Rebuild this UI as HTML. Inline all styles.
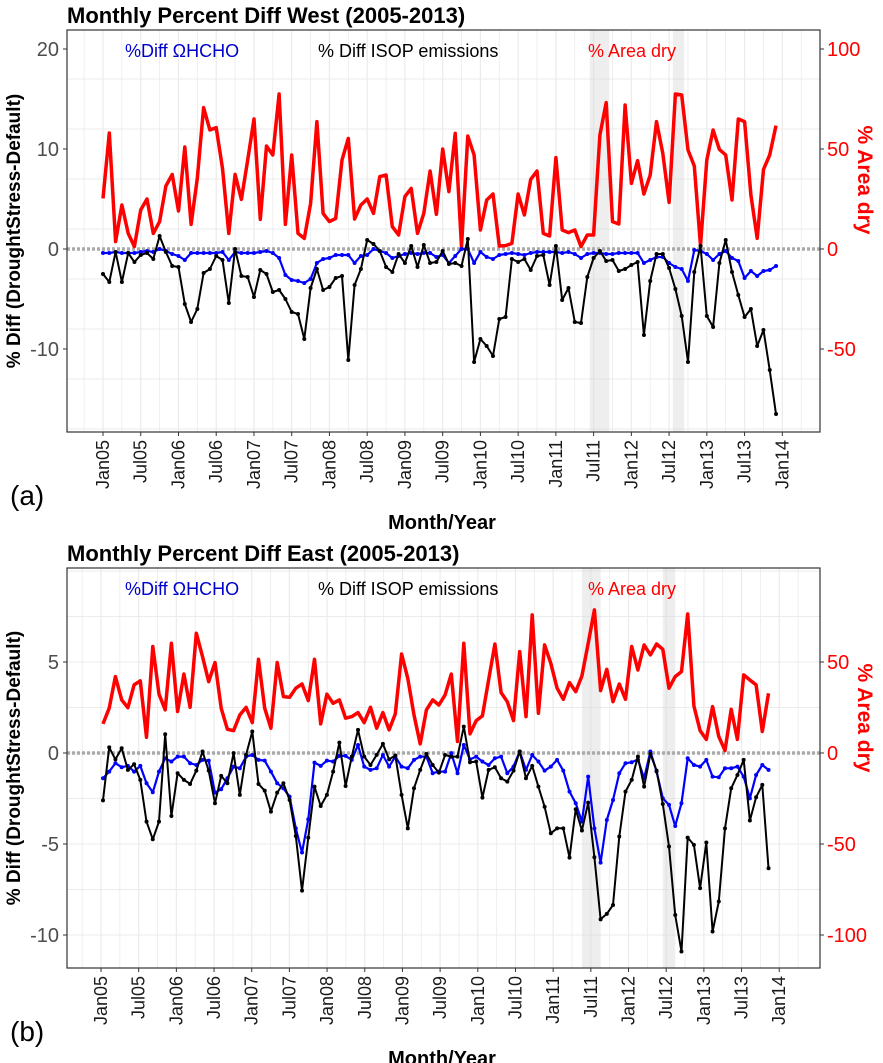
<!DOCTYPE html>
<html><head><meta charset="utf-8"><style>
body{margin:0;background:#fff;}
svg{display:block;font-family:"Liberation Sans",Arial,sans-serif;}
</style></head><body>
<svg id="chart" width="883" height="1063" xmlns="http://www.w3.org/2000/svg"></svg>
<script>
const months = ["Jan05","Jul05","Jan06","Jul06","Jan07","Jul07","Jan08","Jul08","Jan09","Jul09","Jan10","Jul10","Jan11","Jul11","Jan12","Jul12","Jan13","Jul13","Jan14"];
const westTicksL = [20,10,0,-10];
const westTicksR = [100,50,0,-50];
const eastTicksL = [5,0,-5,-10];
const eastTicksR = [50,0,-50,-100];
const westIsop = [-2.5,-3.3,-0.3,-3.3,-0.4,-1.3,-0.6,-0.4,-1.0,1.3,-0.3,-1.7,-1.8,-5.5,-7.3,-6.0,-2.4,-2.0,-0.7,-1.1,-5.4,0,-2.7,-2.8,-4.8,-2.1,-2.5,-4.3,-4.1,-5.0,-6.3,-6.5,-9.0,-3.9,-2.0,-4.1,-3.8,-2.9,-2.7,-11.1,-3.6,-2.0,0.9,0.5,-0.2,-1.8,-2.3,-0.5,-1.4,0.3,-1.8,0.4,-1.4,-1.3,-0.2,
-1.5,-1.4,-1.7,1.0,-11.3,-9.0,-9.7,-10.7,-7.0,-6.8,-1.0,-1.3,-1.0,-2.1,-0.7,-0.6,-3.6,0.3,-5.1,-3.9,-7.3,-7.4,-2.8,-0.9,-0.2,-1.2,-1.1,-2.2,-2.0,-1.6,-1.3,-8.6,-3.2,-0.5,-0.5,-1.9,-4.0,-6.7,-11.3,-2.3,0.3,-6.7,-7.8,-1.4,0.9,-2.3,-4.6,-6.8,-6.0,-9.7,-8.1,-12.1,-16.5];
const westHcho = [-0.4,-0.4,-0.3,-0.4,-0.4,-0.4,-0.3,-0.2,-0.3,0,-0.2,-0.5,-0.7,-1.1,-0.4,-0.4,-0.4,-0.4,-0.4,-0.3,-1.1,-0.3,-0.4,-0.4,-0.4,-0.3,-0.2,-0.4,-0.9,-2.6,-3.1,-3.2,-3.4,-3.0,-1.4,-1.0,-0.9,-0.6,-0.6,-0.6,-1.4,-0.7,-0.6,0,-0.2,-0.4,-0.9,-0.7,-0.5,-0.4,-0.5,-0.4,-0.4,-0.8,-0.6,
-1.4,-0.7,0,0,-1.4,-0.3,-0.8,-1.0,-0.6,-0.5,-0.4,-0.5,-0.6,-0.4,-0.3,-0.3,-0.3,-0.3,-0.4,-0.3,-0.5,-0.9,-0.5,-0.4,-0.4,-0.5,-0.5,-0.4,-0.4,-0.4,-0.4,-1.4,-1.1,-0.8,-0.8,-1.4,-1.8,-2.0,-3.2,-0.1,-0.2,-0.5,-1.1,-0.5,-0.2,-0.9,-1.2,-2.9,-2.2,-2.7,-2.2,-2.1,-1.7];
const westDry = [25.3,58,3.7,22,7.8,1.2,19.5,25,7.8,13.7,31.5,37.3,19,51,12.3,35.3,70.7,59.5,60.7,40.3,7.8,37.3,24.8,44.5,65,14.8,51.5,47,77.5,12.3,47,7.8,5.3,22.8,63.7,17.8,13.7,15.3,44.5,55.3,15,22,25,17.8,36.2,37,11.2,7,26.2,30.3,7.8,17.8,39,17.3,50,
28.7,57.8,1.2,56.5,47,9.5,24.5,27.5,1.5,1.7,2.8,27.5,17,34.8,39,7.8,6.5,45.7,9.5,8.2,9.5,1.2,7,7,57,73.2,13.7,12.5,72,32.8,44.2,27.5,37,63.7,47.8,23.3,77.5,77,49.5,41.5,1.7,44.5,59.5,49.8,47,24.5,65,63.7,27,5.3,39.8,47,61.7];
const eastIsop = [-2.6,0.31,-0.35,0.26,-0.93,-0.62,-1.48,-3.77,-4.74,-3.77,1.03,-3.46,-1.11,-1.48,-1.7,-0.97,0.08,-0.97,-2.76,-1.26,-1.66,-0.01,-2.3,-0.1,1.18,-1.7,-2.07,-3.22,-2.18,-1.66,-2.58,-4.56,-7.56,-4.65,-1.85,-2.91,-2.3,-1.02,0.57,-1.81,-0.2,1.27,-0.2,-0.66,-0.1,0.5,-0.35,-0.14,-2.3,-4.14,-1.94,-0.93,-0.05,-0.66,-1.08,
-0.11,-0.2,-0.2,1.45,-0.51,-0.47,-2.45,-0.93,-0.78,-1.39,-1.57,-0.97,0.08,-1.39,-0.71,-1.85,-2.95,-4.41,-4.14,-4.14,-5.75,-3.09,-4.26,-2.73,-5.73,-9.14,-8.84,-8.35,-4.59,-2.12,-1.48,-0.2,-1.85,-0.05,-0.97,-2.8,-5.14,-8.9,-10.91,-4.65,-5.05,-7.43,-4.92,-9.81,-8.16,-4.14,-1.94,-1.21,-0.38,-3.71,-2.43,-1.75,-6.33];
const eastHcho = [-1.39,-1.02,-0.56,-0.78,-0.71,-1.02,-0.71,-1.66,-2.16,-1.02,-0.29,-0.47,-0.2,-0.2,-0.56,-0.66,-0.38,-0.42,-2.18,-1.99,-1.39,-0.75,-0.84,-0.2,-0.11,-0.38,-0.42,-1.02,-1.66,-1.94,-2.4,-4.14,-5.47,-3.64,-0.53,-0.71,-0.42,-0.47,-0.16,-0.16,-0.38,0.44,-0.75,-0.93,-0.84,-0.11,-0.75,-0.2,-0.75,-0.84,-0.38,-0.2,-0.2,-1.11,-1.02,
-1.02,-0.01,-1.11,0.44,-0.35,-0.2,-0.47,-0.66,-0.29,-0.2,-1.11,-0.75,0.08,-0.93,-0.11,-0.47,-0.97,-0.75,-0.38,-0.97,-2.12,-2.76,-3.77,-1.3,-4.14,-6.02,-3.68,-2.58,-1.11,-0.56,-0.51,-0.35,-1.39,0.08,-1.02,-2.49,-2.85,-4.01,-2.76,-0.29,-0.66,-0.75,-0.38,-1.3,-1.33,-0.84,-0.84,-0.75,-1.3,-2.49,-1.21,-0.66,-0.93];
const eastDry = [16,24.6,42,29.2,24.9,37.4,39.6,8.6,58.5,32.3,23.7,60.3,22.8,43.4,25.1,65.8,53,39.2,49.7,24.6,13,12.3,20.9,25.1,16.7,51.5,24.6,13.6,49.7,31,30.6,35.6,37.9,28.8,51.5,16,32.3,27.3,29.2,19.1,20,22.2,16.7,25.1,13.6,22.2,12.7,21.5,54.4,41,20.9,5,23.7,29.2,26.4,
31.9,43.4,6.3,60.3,10.5,17.8,20.4,40.1,59.9,33.2,28.2,17.8,55.7,20,75.9,21.8,59.4,49.3,35.6,29.5,38.7,33.7,42.3,60.3,78.6,34.3,46,28.2,37.9,29.5,58.5,45.6,59.4,53.9,59.9,57,35.6,42,44.7,76.4,25.9,12.3,7.5,25.5,9,1.3,24,7.5,42.9,40.1,37.4,11.8,32.8];

const svg = document.getElementById('chart');
const NS = 'http://www.w3.org/2000/svg';
function mk(tag, attrs, parent, text){
  const e = document.createElementNS(NS, tag);
  for (const k in attrs) e.setAttribute(k, attrs[k]);
  if (text !== undefined) e.textContent = text;
  (parent || svg).appendChild(e);
  return e;
}

function panel(cfg){
  const g = mk('g', {});
  
  
  const L = 67, R = 820, T = cfg.top, B = cfg.bottom;
  const xTick = m => cfg.tx0 + cfg.tstep * m;
  const xData = m => cfg.dx0 + cfg.dstep * m;
  const yL = v => cfg.zeroY - v * cfg.pxL;
  const yR = v => cfg.zeroY - v * cfg.pxR;
  // minor horizontal grid
  for (let v = cfg.minL; v <= cfg.maxL; v += cfg.stepL / 2) {
    const y = yL(v); if (y < T || y > B) continue;
    const gl = mk('line', {x1:L, x2:R, y1:y, y2:y, stroke:'#ebebeb', 'stroke-width': 1}, g);
    
    
  }
  // vertical grid every 3 months
  for (let m = -3; m <= 111; m += 3) {
    const x = xTick(m); if (x < L || x > R) continue;
    const gl = mk('line', {x1:x, x2:x, y1:T, y2:B, stroke:'#ebebeb', 'stroke-width': (m % 6 === 0) ? 1.2 : 0.8}, g);
    
    
  }
  // shaded drought periods
  cfg.shades.forEach(s => {
    const r = mk('rect', {x: xData(s[0]), y: T, width: xData(s[1]) - xData(s[0]), height: B - T, fill: '#d9d9d9', opacity: 0.45}, g);
    
    
  });
  // zero line
  const z = mk('line', {x1:L, x2:R, y1:yL(0), y2:yL(0), stroke:'#aaaaaa', 'stroke-width':3.5, 'stroke-dasharray':'3,2'}, g);
  
  
  // series
  function line(arr, sc, color, w, dots, nm){
    const pts = arr.map((v,i) => xData(i).toFixed(1) + ',' + sc(v).toFixed(1)).join(' ');
    const p = mk('polyline', {points: pts, fill:'none', stroke: color, 'stroke-width': w, 'stroke-linejoin':'round'}, g);
    
    
    if (dots) arr.forEach((v,i) => {
      const c = mk('circle', {cx: xData(i), cy: sc(v), r: 2, fill: color}, g);
      
      
    });
  }
  line(cfg.dry, yR, '#ff0000', 3.5, false, 'area-dry');
  line(cfg.hcho, yL, '#0000ff', 2.2, true, 'hcho-diff');
  line(cfg.isop, yL, '#000000', 2, true, 'isop-diff');
  // frame
  const fr = mk('rect', {x:L, y:T, width:R-L, height:B-T, fill:'none', stroke:'#333', 'stroke-width':1.2}, g);
  
  
  // left ticks
  cfg.ticksL.forEach(v => {
    const y = yL(v);
    mk('line', {x1:L-4, x2:L, y1:y, y2:y, stroke:'#333'}, g);
    const t = mk('text', {x: L-8, y: y+7, 'text-anchor':'end', 'font-size':20, fill:'#4d4d4d'}, g, String(v));
    
    
  });
  cfg.ticksR.forEach(v => {
    const y = yR(v);
    mk('line', {x1:R, x2:R+4, y1:y, y2:y, stroke:'#333'}, g);
    const t = mk('text', {x: R+7, y: y+7, 'font-size':20, fill:'#ff0000'}, g, String(v));
    
    
  });
  months.forEach((lab, i) => {
    const x = xTick(i * 6);
    mk('line', {x1:x, x2:x, y1:B, y2:B+4, stroke:'#333'}, g);
    const t = mk('text', {x: x+6, y: B+8, 'font-size':18, fill:'#1a1a1a', 'text-anchor':'end', transform:`rotate(-90 ${x+6} ${B+8})`}, g, lab);
    
    
  });
  const tt = mk('text', {x: 67, y: T-7, 'font-size':22, 'font-weight':'bold'}, g, cfg.title);
  
  
  const l1 = mk('text', {x:125, y:T+27, 'font-size':18, fill:'#0000cc'}, g, '%Diff \u03A9HCHO');
  
  
  const l2 = mk('text', {x:318, y:T+27, 'font-size':18, fill:'#000'}, g, '% Diff ISOP emissions');
  
  
  const l3 = mk('text', {x:588, y:T+27, 'font-size':18, fill:'#ff0000'}, g, '% Area dry');
  
  
  const yt = (T+B)/2;
  const ylt = mk('text', {x:20, y:yt, 'font-size':19, 'font-weight':'bold', 'text-anchor':'middle', transform:`rotate(-90 20 ${yt})`}, g, '% Diff (DroughtStress-Default)');
  
  
  const yrt = mk('text', {x:858, y:cfg.rTitleY, 'font-size':21, 'font-weight':'bold', fill:'#ff0000', 'text-anchor':'middle', transform:`rotate(90 858 ${cfg.rTitleY})`}, g, '% Area dry');
  
  
  const xt = mk('text', {x:442, y:B+97, 'font-size':20, 'font-weight':'bold', 'text-anchor':'middle'}, g, 'Month/Year');
  
  
  const pl = mk('text', {x:10, y:B+73, 'font-size':28}, g, cfg.label);
  
  
}

panel({name:'panel-west', title:'Monthly Percent Diff West (2005-2013)', label:'(a)', top:30, bottom:432,
  zeroY:249, pxL:10, pxR:2, minL:-18, maxL:22, stepL:10, ticksL:westTicksL, ticksR:westTicksR,
  tx0:103, tstep:6.29, dx0:103, dstep:6.29, shades:[[77.4,80.5],[90.6,92.4]],
  isop:westIsop, hcho:westHcho, dry:westDry, rTitleY:180});
panel({name:'panel-east', title:'Monthly Percent Diff East (2005-2013)', label:'(b)', top:568, bottom:968,
  zeroY:753, pxL:18.2, pxR:1.82, minL:-12.5, maxL:10, stepL:5, ticksL:eastTicksL, ticksR:eastTicksR,
  tx0:101, tstep:6.28, dx0:103, dstep:6.22, shades:[[77,80],[90,92]],
  isop:eastIsop, hcho:eastHcho, dry:eastDry, rTitleY:718});
</script>
</body></html>
